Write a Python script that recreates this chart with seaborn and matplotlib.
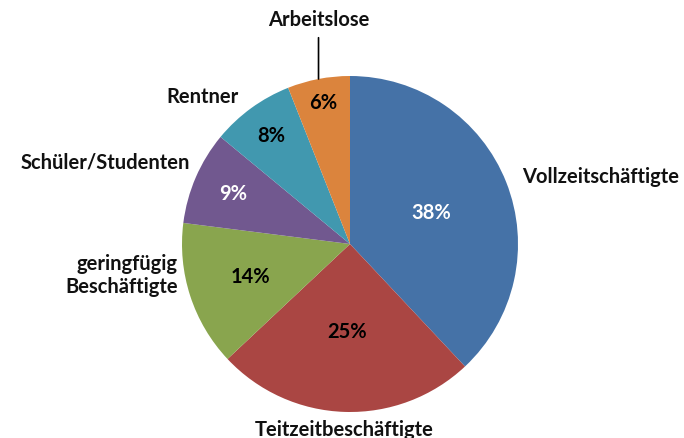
import numpy as np
import matplotlib
matplotlib.use("Agg")
import matplotlib.pyplot as plt
import seaborn as sns

# data, clockwise from 12 o'clock
labels = ["Vollzeitschäftigte", "Teitzeitbeschäftigte", "geringfügig\nBeschäftigte",
          "Schüler/Studenten", "Rentner", "Arbeitslose"]
shares = [38, 25, 14, 9, 8, 6]
colors = ["#4572A7", "#AA4643", "#89A54E", "#71588F", "#4198AF", "#DB843D"]
pct_colors = ["white", "black", "black", "white", "black", "black"]

# label placement (style only)
pct_dist = [0.52, 0.52, 0.62, 0.76, 0.80, 0.86]
lab_dist = [1.10, 1.10, 1.04, 1.07, 1.10, 1.34]
lab_angle_shift = [0, 0, -8, -4, 1, 0]
fs = 14.5

sns.set_theme(style="white")
plt.rcParams["font.family"] = ["Lato", "DejaVu Sans"]

fig = plt.figure(figsize=(6.84, 4.39), dpi=100)
ax = fig.add_axes([182 / 684, 26 / 439, 336 / 684, 336 / 439])

wedges, _ = ax.pie(shares, colors=colors, startangle=90, counterclock=False,
                   wedgeprops=dict(linewidth=0))
for w in wedges:
    w.set_clip_on(False)

for i, w in enumerate(wedges):
    mid = np.deg2rad((w.theta1 + w.theta2) / 2)
    # percent label
    r = pct_dist[i]
    ax.text(r * np.cos(mid), r * np.sin(mid), f"{shares[i]}%", ha="center", va="center",
            fontsize=fs, fontweight="bold", color=pct_colors[i])
    # category label
    a = mid + np.deg2rad(lab_angle_shift[i])
    x, y = np.cos(a), np.sin(a)
    r = lab_dist[i]
    if labels[i] == "Arbeitslose":
        ax.annotate(labels[i], xy=(np.cos(mid), np.sin(mid)), xytext=(np.cos(mid), r),
                    ha="center", va="center", fontsize=fs, fontweight="bold",
                    color="#111111",
                    arrowprops=dict(arrowstyle="-", color="black", lw=1.2,
                                    shrinkA=4, shrinkB=0),
                    annotation_clip=False)
        continue
    if abs(x) < 0.2:
        ha = "center"
    elif x > 0:
        ha = "left"
    else:
        ha = "right"
    ax.text(r * x, r * y, labels[i], ha=ha, va="center", fontsize=fs, color="#111111",
            fontweight="bold", multialignment="right", clip_on=False)

ax.set_xlim(-1, 1)
ax.set_ylim(-1, 1)
ax.set_aspect("equal")
ax.axis("off")

fig.savefig("out.png", dpi=100)
